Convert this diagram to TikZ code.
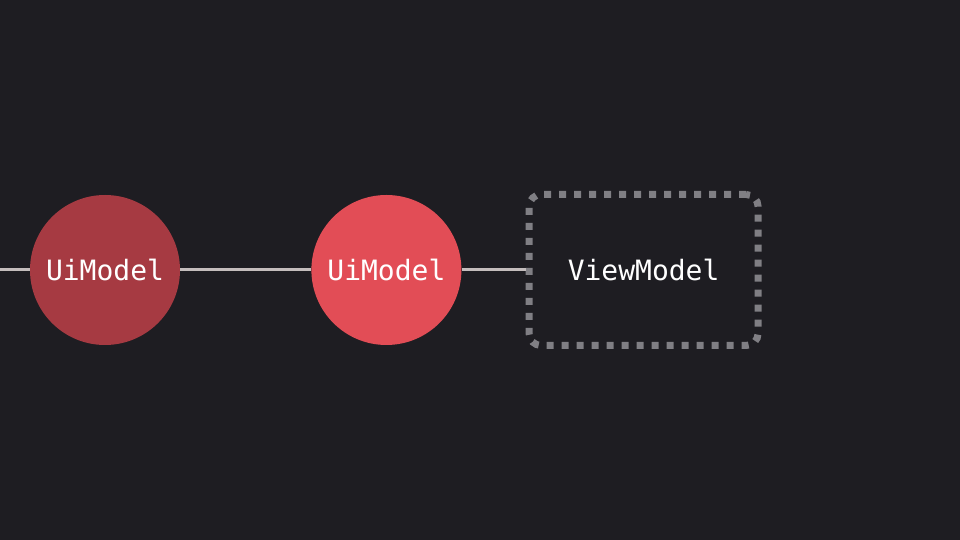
\documentclass[tikz,border=0pt]{standalone}
\usepackage{fontspec}
\setmonofont{DejaVu Sans Mono}
\usetikzlibrary{positioning}
\definecolor{bgdark}{HTML}{1E1D22}
\definecolor{modeldark}{HTML}{A63A42}
\definecolor{modellight}{HTML}{E24D56}
\definecolor{wire}{HTML}{C4BDBD}
\definecolor{dotgray}{HTML}{807F84}

\begin{document}
\begin{tikzpicture}[x=1pt, y=1pt,
        model/.style={circle, inner sep=0pt, minimum size=150pt, text=white, font=\fontsize{28}{32}\selectfont\ttfamily},
        viewmodel/.style={rectangle, rounded corners=12pt, draw=dotgray, line width=7pt, dash pattern=on 7pt off 8pt, minimum width=229pt, minimum height=151pt, text=white, font=\fontsize{28}{32}\selectfont\ttfamily},
        wire/.style={draw=wire, line width=3pt},
    ]
    \fill[bgdark] (0,0) rectangle (960,540);
    \useasboundingbox (0,0) rectangle (960,540);

    \node[model, fill=modeldark] (uimodel1) at (105, 270) {UiModel};
    \node[model, fill=modellight] (uimodel2) [right=131pt of uimodel1] {UiModel};
    \node[viewmodel] (viewmodel) [right=64pt of uimodel2] {ViewModel};
    \coordinate (start) at (0, 270);

    \path[wire] (start) edge (uimodel1.west);
    \path[wire] (uimodel1) edge (uimodel2);
    \path[wire] (uimodel2) edge (viewmodel.west);
\end{tikzpicture}
\end{document}
